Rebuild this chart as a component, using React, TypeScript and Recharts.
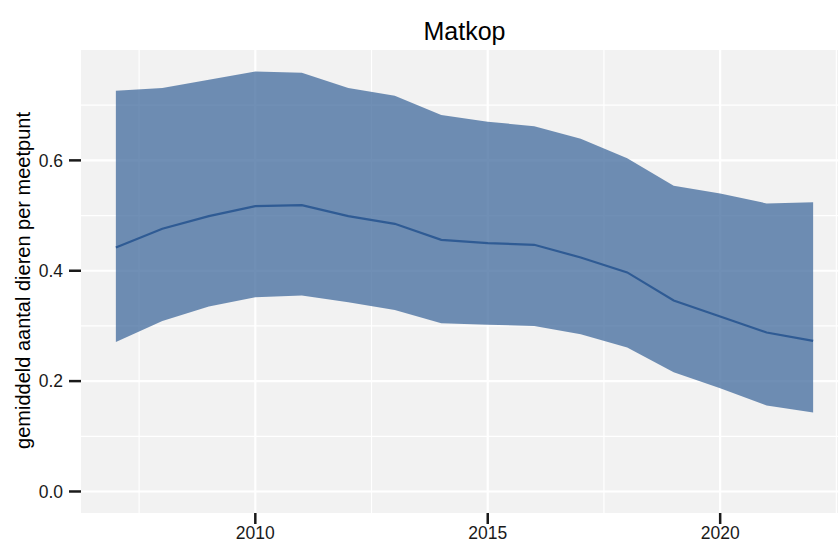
import React from "react";
import {
  ComposedChart,
  Area,
  Line,
  XAxis,
  YAxis,
  CartesianGrid,
} from "recharts";

const years = [2007, 2008, 2009, 2010, 2011, 2012, 2013, 2014, 2015, 2016, 2017, 2018, 2019, 2020, 2021, 2022];
const meanValues = [0.442, 0.476, 0.499, 0.517, 0.519, 0.499, 0.485, 0.456, 0.45, 0.447, 0.424, 0.397, 0.346, 0.317, 0.288, 0.273];
const lowerValues = [0.271, 0.309, 0.335, 0.352, 0.355, 0.343, 0.329, 0.305, 0.302, 0.3, 0.285, 0.261, 0.216, 0.187, 0.156, 0.143];
const upperValues = [0.726, 0.731, 0.746, 0.761, 0.759, 0.731, 0.717, 0.682, 0.67, 0.662, 0.639, 0.604, 0.554, 0.54, 0.522, 0.524];

const xTicks = [2010, 2015, 2020];
const xMinor = [2007.5, 2012.5, 2017.5, 2022.5];
const yTicks = [0, 0.2, 0.4, 0.6];
const yMinor = [0.1, 0.3, 0.5, 0.7];

const title = "Matkop";
const yTitle = "gemiddeld aantal dieren per meetpunt";

const data = years.map((year, i) => ({
  year,
  mean: meanValues[i],
  band: [lowerValues[i], upperValues[i]],
}));

const FONT = "'Liberation Sans', Arial, Helvetica, sans-serif";

export default function App() {
  return (
    <div
      style={{
        position: "fixed",
        left: 0,
        top: 0,
        width: 838,
        height: 543,
        overflow: "hidden",
        background: "#ffffff",
      }}
    >
      <div style={{ position: "absolute", left: 0, top: 0 }}>
        <ComposedChart
          width={848}
          height={543}
          data={data}
          margin={{ top: 50, right: 0, bottom: 0, left: 0 }}
        >
          <CartesianGrid
            fill="#f2f2f2"
            stroke="#ffffff"
            strokeWidth={1.2}
            verticalValues={xMinor}
            horizontalValues={yMinor}
          />
          <CartesianGrid
            stroke="#ffffff"
            strokeWidth={2.2}
            verticalValues={xTicks}
            horizontalValues={yTicks}
          />
          <XAxis
            dataKey="year"
            type="number"
            domain={[2006.25, 2022.75]}
            ticks={xTicks}
            allowDataOverflow
            height={30}
            axisLine={false}
            tickSize={11}
            tickMargin={3}
            tickLine={{ stroke: "#1a1a1a", strokeWidth: 2.5 }}
            tick={{ fill: "#1a1a1a", fontSize: 17.5, fontFamily: FONT }}
          />
          <YAxis
            type="number"
            domain={[-0.039, 0.8]}
            ticks={yTicks}
            allowDataOverflow
            width={81}
            axisLine={false}
            tickSize={12}
            tickMargin={6}
            tickLine={{ stroke: "#1a1a1a", strokeWidth: 2.5 }}
            tick={{ fill: "#1a1a1a", fontSize: 17.5, fontFamily: FONT }}
            tickFormatter={(v: number) => v.toFixed(1)}
          />
          <Area
            dataKey="band"
            type="linear"
            fill="#456d9f"
            fillOpacity={0.77}
            stroke="none"
            isAnimationActive={false}
            activeDot={false}
            dot={false}
          />
          <Line
            dataKey="mean"
            type="linear"
            stroke="#2f5b94"
            strokeWidth={2.2}
            dot={false}
            activeDot={false}
            isAnimationActive={false}
          />
        </ComposedChart>
      </div>
      <svg
        width={838}
        height={543}
        style={{ position: "absolute", left: 0, top: 0, pointerEvents: "none" }}
      >
        <text
          x={464.5}
          y={39.5}
          textAnchor="middle"
          fontSize={25}
          fontFamily={FONT}
          fill="#000000"
        >
          {title}
        </text>
        <text
          transform="translate(30,280.5) rotate(-90)"
          textAnchor="middle"
          fontSize={20}
          fontFamily={FONT}
          fill="#000000"
        >
          {yTitle}
        </text>
      </svg>
    </div>
  );
}
